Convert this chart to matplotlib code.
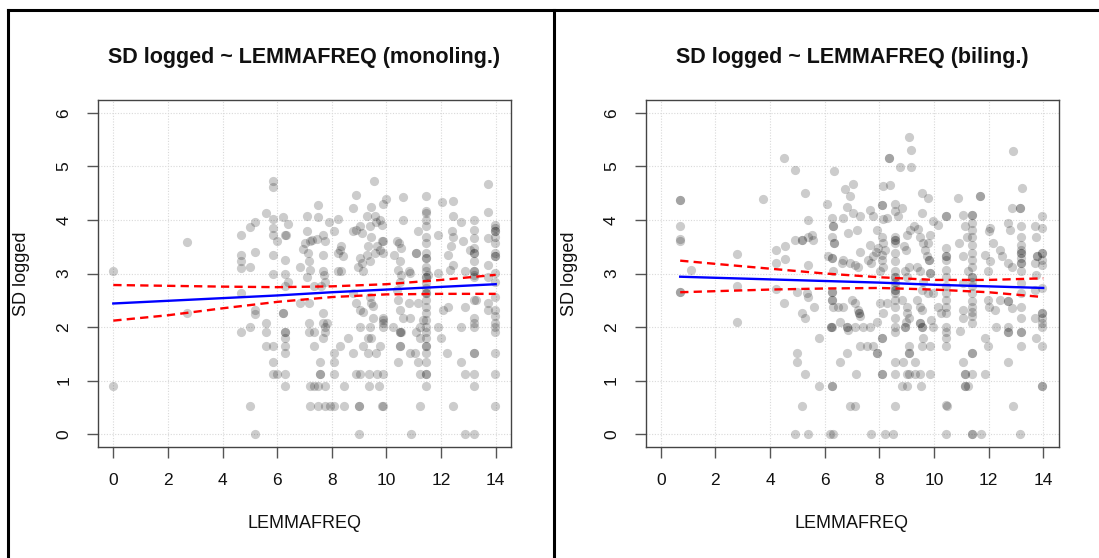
import matplotlib
matplotlib.use("Agg")
import matplotlib.pyplot as plt
from matplotlib.lines import Line2D

plt.rcParams['font.family'] = ['Liberation Sans', 'DejaVu Sans']

# ---------------- text ----------------
titles = ["SD logged ~ LEMMAFREQ (monoling.)", "SD logged ~ LEMMAFREQ (biling.)"]
x_label = "LEMMAFREQ"
y_label = "SD logged"
x_ticks = [0, 2, 4, 6, 8, 10, 12, 14]
y_ticks = [0, 1, 2, 3, 4, 5, 6]

# ---------------- monolingual data (x = LEMMAFREQ, y = SD logged) ----------------
mono_pts_low = [
    (0, 3.04), (0, 0.89), (2.71, 3.59), (2.71, 2.26),
    (4.66, 3.71), (4.66, 3.35), (4.66, 3.23), (4.66, 3.10), (4.66, 2.63), (4.66, 1.90),
    (5.0, 3.87), (5.17, 3.96), (5.02, 3.13), (5.17, 3.40), (5.17, 2.32), (5.17, 2.25),
    (5.02, 2.0), (5.02, 0.53), (5.17, 0),
    (5.59, 4.13), (5.83, 4.72), (5.83, 4.62), (5.83, 4.02), (5.83, 3.85), (5.83, 3.72),
    (5.98, 3.6), (5.83, 3.35), (5.83, 3.0),
    (5.59, 2.08), (5.59, 1.90), (5.59, 1.65), (5.83, 1.65), (5.83, 1.34), (5.83, 1.13), (5.98, 1.13),
    (6.22, 4.05), (6.39, 3.93), (6.28, 3.72), (6.34, 3.72), (6.28, 3.26), (6.28, 3.0),
    (6.39, 2.85), (6.28, 2.76), (6.22, 2.26), (6.22, 2.26), (6.29, 1.90), (6.29, 1.90),
    (6.29, 1.79), (6.29, 1.65), (6.29, 1.51), (6.29, 1.13), (6.29, 0.89),
    (6.83, 3.13), (6.83, 2.45), (6.95, 3.46),
]
mono_pts_mid = [
    (7.10, 4.08), (7.10, 3.79), (7.01, 3.57), (7.13, 3.38), (7.20, 3.60), (7.29, 3.63),
    (7.44, 3.64), (7.51, 4.28), (7.51, 4.05), (7.15, 3.23), (7.20, 3.07), (7.10, 2.94),
    (7.34, 2.76), (7.68, 3.72), (7.74, 3.60), (7.68, 3.35), (7.68, 3.04), (7.72, 2.98),
    (7.74, 2.85), (7.62, 2.76), (7.90, 3.96), (8.09, 3.79), (8.23, 4.02),
    (8.23, 3.38), (8.29, 3.44), (8.35, 3.51), (8.41, 3.32), (8.23, 3.04), (8.35, 3.04),
    (7.15, 2.45), (7.15, 2.07), (7.15, 1.90), (7.34, 1.90), (7.34, 1.65), (7.68, 2.26),
    (7.68, 2.07), (7.74, 2.0), (7.74, 1.90), (7.68, 1.79), (7.83, 2.08),
    (7.56, 1.13), (7.56, 1.13), (7.56, 1.34), (8.09, 1.51), (8.09, 1.34), (8.09, 1.13),
    (7.20, 0.89), (7.34, 0.89), (7.51, 0.89), (7.74, 0.89), (8.44, 0.89),
    (7.20, 0.53), (7.51, 0.53), (7.74, 0.53), (7.95, 0.53), (8.09, 0.53), (8.44, 0.53),
    (8.29, 1.65), (8.60, 1.79), (8.78, 1.51), (8.90, 1.13), (9.05, 1.13),
]
mono_pts_upper_mid = [
    (8.90, 4.47), (8.78, 4.22), (8.78, 3.79), (8.90, 3.82), (9.05, 3.88), (9.12, 3.76),
    (9.27, 4.08), (9.39, 3.88), (9.45, 4.24), (9.54, 4.72), (9.57, 4.08), (9.63, 3.97),
    (9.76, 4.0), (8.96, 3.13), (9.09, 3.19), (9.02, 3.29), (9.15, 3.04), (9.27, 3.35),
    (9.39, 3.23), (9.33, 3.51), (9.45, 3.69), (9.57, 3.38), (9.66, 3.51), (9.76, 3.44),
    (9.82, 3.60), (9.88, 4.29), (9.98, 4.39), (9.85, 3.91), (9.88, 3.60), (9.88, 3.38),
    (8.78, 2.63), (8.90, 2.45), (9.05, 2.32), (9.15, 2.29), (9.39, 2.57), (9.45, 2.45),
    (9.49, 2.40), (9.51, 2.16), (9.05, 2.0), (9.39, 2.0), (9.33, 1.79), (9.45, 1.79),
    (9.88, 2.16), (9.88, 2.07), (9.88, 2.0), (9.88, 2.13),
    (9.15, 1.65), (9.33, 1.51), (9.63, 1.51), (9.78, 1.65), (9.37, 1.13), (9.66, 1.13),
    (9.88, 1.13), (9.0, 0.53), (9.0, 0.53), (9.82, 0.53), (9.88, 0.53), (9.0, 0),
    (9.37, 0.89), (9.73, 0.89),
]
mono_pts_high = [
    (10.59, 4.43), (10.59, 4.0), (10.37, 3.60), (10.46, 3.57), (10.55, 3.47), (10.27, 3.35),
    (10.49, 3.23), (10.43, 3.07), (10.55, 2.98), (10.49, 2.85), (10.37, 2.69), (10.43, 2.51),
    (10.49, 2.32), (10.59, 2.16), (10.24, 2.0), (10.49, 1.90), (10.49, 1.90), (10.55, 1.90),
    (10.49, 1.65), (10.49, 1.65), (10.88, 1.51), (10.91, 0), (10.43, 1.34),
    (10.83, 3.04), (10.88, 3.01), (10.83, 2.45), (10.85, 2.16), (11.22, 2.0), (11.16, 2.45),
    (11.22, 1.79), (11.10, 1.90), (11.04, 1.51), (11.22, 1.13), (11.22, 0.53), (11.16, 1.34),
    (11.07, 3.38), (11.07, 3.38), (11.16, 3.79), (11.34, 2.13), (11.52, 2.98),
    (11.89, 3.72), (12.05, 4.33), (11.89, 3.01), (11.89, 2.0), (12.01, 1.79), (12.07, 2.32),
    (12.26, 3.35), (12.26, 2.38), (12.22, 1.51), (12.44, 4.35), (12.44, 4.07), (12.41, 3.79),
    (12.44, 3.69), (12.38, 3.51), (12.44, 3.16), (12.32, 3.07), (12.44, 0.53),
    (12.74, 3.96), (12.80, 3.60), (12.87, 3.04), (12.87, 2.38), (12.74, 2.0), (12.74, 1.34),
    (12.87, 1.13), (12.87, 0), (13.05, 3.44), (13.29, 2.51),
    (13.73, 4.68), (13.73, 4.14), (13.73, 3.66), (13.72, 3.16), (13.72, 2.94), (13.72, 2.45),
    (13.72, 2.32),
]
# vertical stripes of words sharing one LEMMAFREQ value
mono_stripe_x = [11.46, 13.2, 13.96]
mono_stripe_y = [
    [4.44, 4.16, 4.13, 4.0, 3.88, 3.69, 3.57, 3.38, 3.29, 3.29, 3.13, 3.04, 2.94, 2.94, 2.82,
     2.73, 2.63, 2.63, 2.51, 2.38, 2.26, 2.13, 2.0, 1.90, 1.79, 1.65, 1.65, 1.51, 1.34,
     1.13, 1.13, 0.89],
    [4.0, 3.82, 3.66, 3.47, 3.38, 3.38, 3.23, 3.04, 3.04, 2.98, 2.94, 2.51, 2.16, 2.07, 2.0,
     1.51, 1.51, 1.13, 0.89, 0],
    [3.90, 3.85, 3.79, 3.79, 3.69, 3.57, 3.38, 3.32, 3.32, 3.01, 2.85, 2.57, 2.32, 2.20,
     2.07, 2.0, 1.90, 1.51, 1.13, 0.53],
]
mono_line_x = [0, 2, 4, 6, 8, 10, 12, 14]
mono_fit = [2.44, 2.49, 2.54, 2.59, 2.65, 2.70, 2.75, 2.80]
mono_upper = [2.785, 2.77, 2.755, 2.745, 2.76, 2.80, 2.88, 2.975]
mono_lower = [2.12, 2.22, 2.35, 2.47, 2.56, 2.61, 2.62, 2.62]

# ---------------- bilingual data ----------------
bil_pts_low = [
    (0.71, 4.38), (0.71, 4.38), (0.71, 3.89), (0.71, 3.64), (0.71, 3.60), (0.71, 2.66),
    (0.71, 2.66), (1.10, 3.07), (2.78, 3.37), (2.78, 2.76), (2.78, 2.09), (3.73, 4.40),
    (4.22, 3.44), (4.22, 3.19), (4.22, 2.71), (4.51, 5.15), (4.54, 3.51), (4.54, 3.27),
    (4.51, 2.45), (4.91, 4.94), (4.91, 3.63), (4.98, 2.66), (4.98, 1.51), (4.98, 1.34),
    (4.91, 0), (5.16, 3.63), (5.16, 3.63), (5.28, 4.50), (5.16, 2.26), (5.28, 2.16),
    (5.28, 1.13), (5.16, 0.53), (5.40, 0), (5.40, 3.99), (5.40, 3.69), (5.52, 3.72),
    (5.59, 3.63), (5.40, 3.16), (5.34, 2.63), (5.40, 2.57), (5.61, 2.38), (5.80, 1.79),
    (5.80, 0.89),
    (6.10, 4.30), (6.26, 4.04), (6.32, 3.89), (6.32, 3.89), (6.26, 3.69), (6.34, 3.57),
    (6.34, 3.57), (6.34, 4.91), (6.13, 3.32), (6.26, 3.29), (6.26, 3.29), (6.32, 3.04),
    (6.26, 2.66), (6.26, 2.66), (6.26, 2.51), (6.26, 2.51), (6.32, 2.38), (6.50, 2.38),
    (6.68, 2.38), (6.22, 2.0), (6.22, 2.0), (6.27, 2.0), (6.26, 0.89), (6.26, 0.89),
    (6.20, 0), (6.32, 0), (6.56, 2.09), (6.56, 1.34),
]
bil_pts_mid = [
    (6.74, 4.58), (7.05, 4.67), (6.93, 4.45), (6.80, 4.25), (6.68, 4.04), (6.62, 3.19),
    (6.68, 3.26), (6.87, 3.76), (7.20, 3.82), (7.05, 4.13), (7.29, 4.08), (6.93, 3.19),
    (7.11, 3.16), (7.29, 3.40), (7.23, 3.13), (6.99, 2.51), (7.11, 2.45), (7.23, 2.32),
    (7.27, 2.26), (7.27, 2.26), (7.29, 2.20), (6.80, 2.0), (6.80, 2.0), (6.87, 1.95),
    (7.11, 2.0), (7.39, 2.0), (7.66, 2.0), (6.80, 1.51), (7.15, 1.13), (6.93, 0.53),
    (7.11, 0.53), (7.29, 1.65), (7.54, 1.65), (7.78, 1.65),
    (7.66, 4.19), (7.78, 4.07), (7.66, 3.54), (7.60, 3.26), (7.68, 3.19), (7.78, 3.32),
    (7.88, 3.40), (7.96, 3.47), (7.90, 3.82), (7.68, 0), (7.90, 2.10), (7.90, 1.51),
    (7.90, 1.51),
    (8.09, 4.27), (8.09, 4.27), (8.15, 4.02), (8.27, 4.04), (8.09, 3.69), (8.15, 3.57),
    (8.20, 3.44), (8.09, 3.35), (8.09, 3.26), (8.15, 3.13), (8.02, 3.04), (8.15, 4.63),
    (8.39, 4.66), (8.37, 5.15), (8.37, 5.15), (8.02, 2.45), (8.15, 2.26), (8.27, 2.45),
    (8.09, 1.79), (8.09, 1.79), (8.09, 1.13), (8.09, 1.13), (8.21, 0), (8.49, 0),
    (8.76, 4.99), (8.82, 4.22), (8.70, 4.07), (8.90, 3.51), (8.98, 3.44), (9.02, 3.72),
    (9.12, 3.82), (8.94, 3.04), (9.0, 2.94), (9.10, 3.13), (8.82, 2.51), (9.0, 2.38),
    (9.02, 2.26), (8.98, 2.09), (8.94, 2.0), (8.94, 2.0), (9.10, 2.16),
    (9.10, 5.55), (9.15, 5.31), (9.15, 4.99), (9.10, 1.65), (9.10, 1.51), (9.10, 1.51),
    (8.88, 1.34), (9.32, 1.34), (9.02, 1.13), (9.10, 1.13), (9.32, 1.13), (9.49, 1.13),
    (9.85, 1.13), (8.82, 0.89), (9.02, 0.89), (9.51, 0.89),
]
bil_pts_high = [
    (9.27, 3.88), (9.43, 3.83), (9.55, 4.51), (9.55, 4.13), (9.49, 3.69), (9.59, 3.57),
    (9.68, 3.44), (9.73, 3.32), (9.37, 3.13), (9.49, 3.04), (9.61, 2.85), (9.55, 2.69),
    (9.37, 2.51), (9.49, 2.38), (9.55, 2.32), (9.49, 2.07), (9.49, 2.07), (9.55, 2.0),
    (9.55, 2.0), (9.61, 1.79), (9.55, 1.65), (9.85, 1.65),
    (9.79, 4.41), (9.85, 3.72), (9.79, 3.57), (9.83, 3.26), (9.83, 3.26), (9.85, 3.01),
    (9.85, 3.01), (9.79, 2.63), (9.95, 3.98), (10.16, 3.91), (9.98, 2.63), (9.91, 2.13),
    (9.98, 2.0), (10.16, 2.38), (10.24, 2.26), (10.49, 0.53),
    (10.89, 4.41), (10.93, 3.57), (11.07, 4.10), (11.13, 3.88), (11.20, 3.69), (11.07, 3.32),
    (11.24, 3.04), (11.07, 2.82), (11.07, 2.32), (11.07, 2.16), (10.95, 1.92), (11.07, 1.34),
    (11.13, 1.13), (11.13, 1.13), (11.13, 0.89), (11.13, 0.89), (11.26, 0.89), (11.38, 0),
    (11.38, 0), (11.68, 4.44), (11.68, 4.44), (11.71, 0),
    (11.87, 3.35), (11.99, 3.04), (12.02, 3.79), (12.05, 3.85), (12.17, 3.57), (12.05, 3.23),
    (11.99, 2.51), (12.02, 2.38), (12.23, 2.32), (11.87, 1.79), (11.99, 1.65), (11.87, 1.13),
    (12.27, 2.0), (12.41, 3.44), (12.48, 3.32), (12.41, 2.51),
    (12.72, 3.94), (12.80, 3.82), (12.72, 3.19), (12.84, 3.13), (12.72, 2.48), (12.72, 2.48),
    (12.84, 2.35), (12.72, 2.0), (12.72, 1.90), (12.72, 1.90), (12.72, 1.34), (12.88, 0.53),
    (13.15, 0), (12.88, 5.28), (13.21, 4.60), (13.15, 4.22), (13.15, 4.22), (12.84, 4.22),
    (13.70, 3.88), (13.74, 3.69), (13.76, 3.32), (13.76, 3.32), (13.70, 3.19), (13.74, 2.98),
    (13.70, 2.69), (13.70, 2.16), (13.74, 1.79),
]
bil_stripe_x = [8.57, 10.44, 11.41, 13.18, 13.94]
bil_stripe_y = [
    [4.29, 4.16, 3.69, 3.63, 3.63, 3.57, 3.38, 3.23, 3.04, 2.94, 2.94, 2.85, 2.76, 2.69,
     2.69, 2.63, 2.51, 2.38, 2.16, 2.0, 1.90, 1.34, 1.13, 0.53],
    [4.07, 4.07, 3.47, 3.32, 3.32, 3.26, 3.07, 2.94, 2.76, 2.63, 2.51, 2.38, 2.26, 2.0,
     1.90, 1.79, 1.65, 0.54, 0],
    [4.10, 4.10, 3.94, 3.82, 3.69, 3.54, 3.38, 3.26, 3.13, 2.94, 2.94, 2.85, 2.76, 2.63,
     2.48, 2.38, 2.29, 2.20, 2.07, 1.51, 1.51, 1.13],
    [3.88, 3.69, 3.54, 3.44, 3.38, 3.38, 3.29, 3.19, 3.19, 3.04, 2.82, 2.63, 2.38, 2.16,
     1.90, 1.90, 1.65],
    [4.07, 3.85, 3.38, 3.38, 3.26, 3.16, 2.73, 2.26, 2.26, 2.16, 2.07, 2.0, 1.65, 0.89,
     0.89],
]
bil_line_x = [0.71, 2, 4, 6, 8, 10, 12, 14]
bil_fit = [2.94, 2.92, 2.89, 2.86, 2.83, 2.79, 2.76, 2.73]
bil_upper = [3.24, 3.18, 3.09, 3.00, 2.93, 2.88, 2.88, 2.91]
bil_lower = [2.65, 2.67, 2.70, 2.72, 2.73, 2.70, 2.65, 2.56]


def collect(groups, stripe_x, stripe_y):
    xs, ys = [], []
    for g in groups:
        for x, y in g:
            xs.append(x)
            ys.append(y)
    for sx, col in zip(stripe_x, stripe_y):
        for y in col:
            xs.append(sx)
            ys.append(y)
    return xs, ys


panels = [
    (collect([mono_pts_low, mono_pts_mid, mono_pts_upper_mid, mono_pts_high],
             mono_stripe_x, mono_stripe_y),
     mono_line_x, mono_fit, mono_upper, mono_lower),
    (collect([bil_pts_low, bil_pts_mid, bil_pts_high], bil_stripe_x, bil_stripe_y),
     bil_line_x, bil_fit, bil_upper, bil_lower),
]

W, H = 1099, 558
fig = plt.figure(figsize=(W / 100, H / 100), dpi=100)

ax_boxes = [(98, 100, 511, 447), (645.5, 100, 1058.5, 447)]
for i, ((xs, ys), lx, fit, up, lo) in enumerate(panels):
    x0, y0, x1, y1 = ax_boxes[i]
    ax = fig.add_axes([x0 / W, 1 - y1 / H, (x1 - x0) / W, (y1 - y0) / H])
    ax.set_xlim(-0.56, 14.56)
    ax.set_ylim(-0.24, 6.24)
    ax.set_xticks(x_ticks)
    ax.set_yticks(y_ticks)
    ax.grid(True, color='#d9d9d9', linestyle=(0, (1, 1.5)), linewidth=0.8)
    ax.set_axisbelow(True)
    ax.scatter(xs, ys, s=44, color='black', alpha=0.2, linewidths=0, zorder=2)
    ax.plot(lx, fit, color='blue', lw=1.7, zorder=3)
    ax.plot(lx, up, color='red', lw=1.7, linestyle=(0, (3.5, 2.2)), zorder=3)
    ax.plot(lx, lo, color='red', lw=1.7, linestyle=(0, (3.5, 2.2)), zorder=3)
    for sp in ax.spines.values():
        sp.set_color('#444444')
        sp.set_linewidth(1.0)
    ax.tick_params(axis='both', length=8, width=1, color='#555555', pad=11,
                   labelsize=12.5, labelcolor='#111111')
    ax.tick_params(axis='y', labelrotation=90)
    for lab in ax.get_yticklabels():
        lab.set_va('center')
    ax.text(0.5, 1 + 43 / 347, titles[i], transform=ax.transAxes, ha='center',
            va='center', fontsize=15.5, fontweight='bold', color='#111111')
    ax.text(0.5, -76 / 347, x_label, transform=ax.transAxes, ha='center', va='center',
            fontsize=13, color='#111111')
    ax.text(-76 / 413, 0.5, y_label, transform=ax.transAxes, ha='center', va='center',
            rotation=90, fontsize=13, color='#111111')

# outer frames of the two boxes
lw = 2.2
fig.add_artist(Line2D([8 / W, 1.0], [1 - 10 / H, 1 - 10 / H], color='black', lw=lw,
                      transform=fig.transFigure))
fig.add_artist(Line2D([8 / W, 8 / W], [0, 1 - 10 / H], color='black', lw=lw,
                      transform=fig.transFigure))
fig.add_artist(Line2D([554 / W, 554 / W], [0, 1 - 10 / H], color='black', lw=lw,
                      transform=fig.transFigure))

fig.savefig("out.png", dpi=100)
